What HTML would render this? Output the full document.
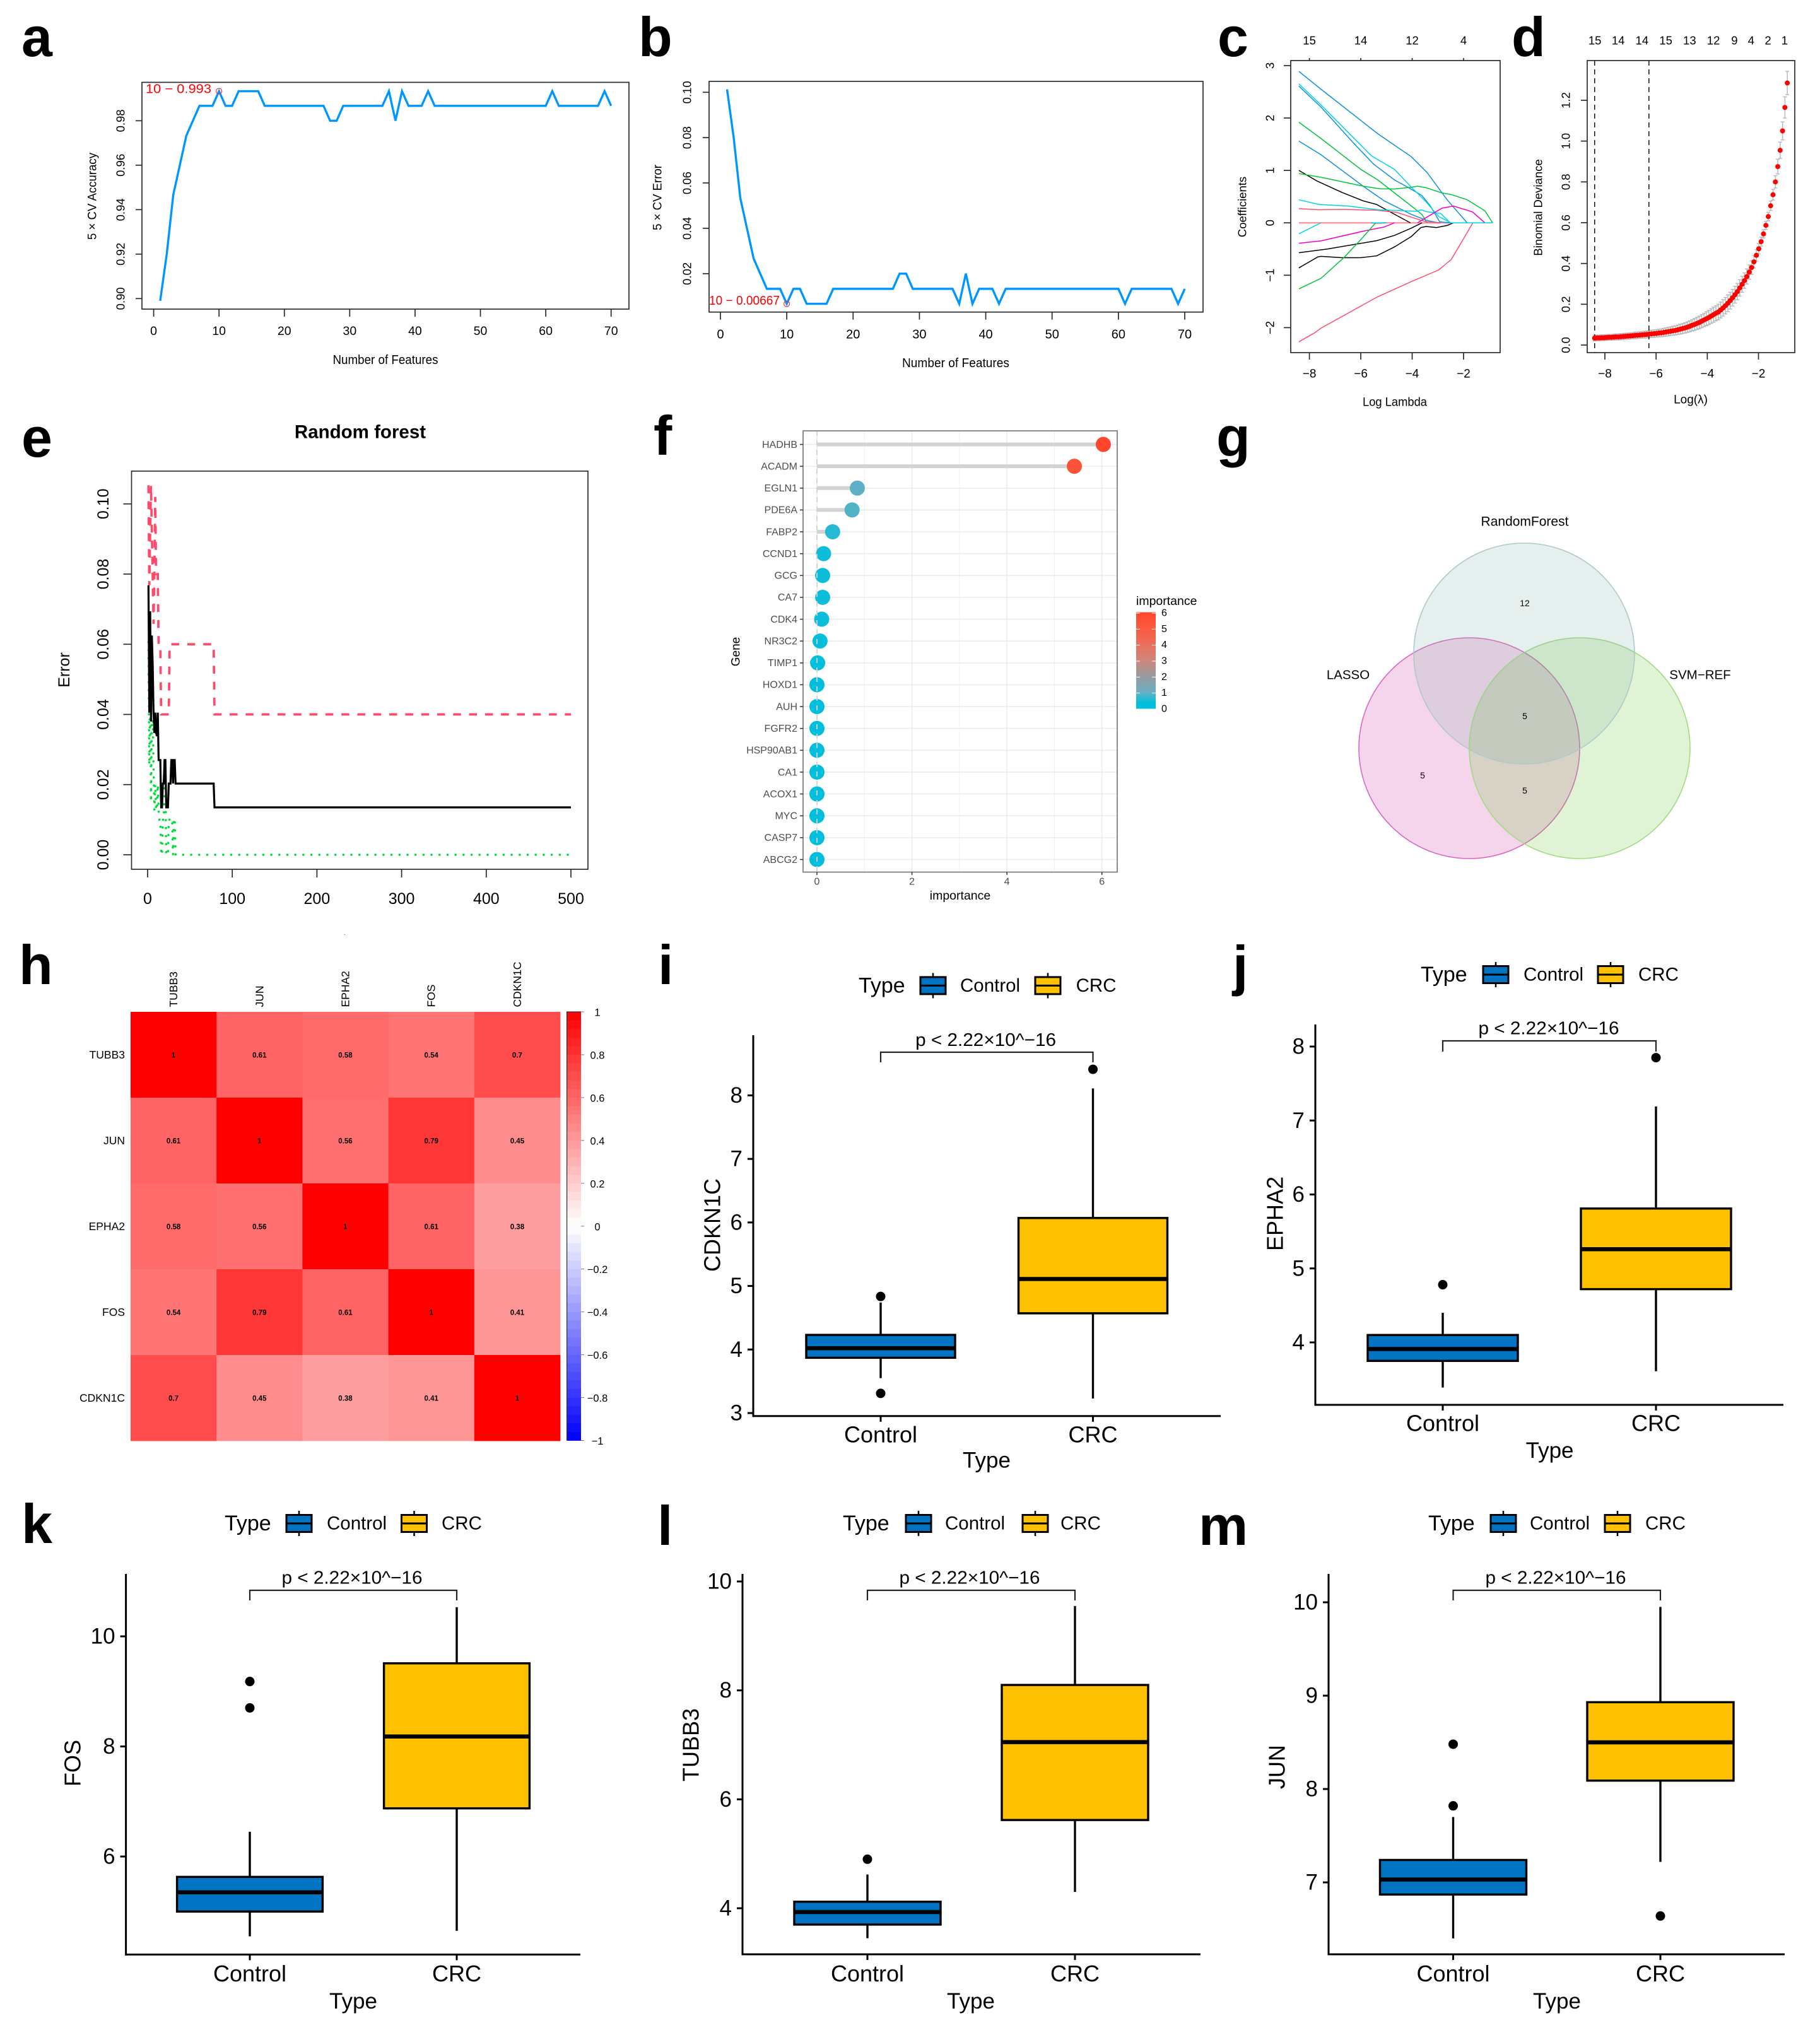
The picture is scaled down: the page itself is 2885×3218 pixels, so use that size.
<!DOCTYPE html>
<html lang="en">
<head>
<meta charset="utf-8">
<title>Feature selection and boxplot figure</title>
<style>
html,body{margin:0;padding:0;background:#fff;}
svg{display:block;font-family:"Liberation Sans",Arial,sans-serif;}
.letter{font-size:88px;font-weight:700;fill:#000;}
.t{dominant-baseline:central;fill:#000;}
</style>
</head>
<body>
<svg id="figure" xmlns="http://www.w3.org/2000/svg" width="2885" height="3218" viewBox="0 0 2885 3218">
<defs>
<clipPath id="trees-clip"><rect x="500" y="1470" width="150" height="12"/></clipPath>
<linearGradient id="importance-gradient" x1="0" y1="1" x2="0" y2="0">
<stop offset="0" stop-color="#00bfdc"/><stop offset="0.06" stop-color="#00bfdc"/><stop offset="0.18" stop-color="#6eafc0"/><stop offset="0.33" stop-color="#969ba0"/><stop offset="0.5" stop-color="#cd877d"/><stop offset="0.67" stop-color="#eb6e5a"/><stop offset="0.83" stop-color="#fa5a41"/><stop offset="1" stop-color="#ff462d"/>
</linearGradient>
</defs>
<rect width="2885" height="3218" fill="#fff"/>

<text class="letter" x="34" y="89">a</text>
<text class="letter" x="1012" y="89">b</text>
<text class="letter" x="1930" y="89">c</text>
<text class="letter" x="2396" y="89">d</text>
<text class="letter" x="34" y="724">e</text>
<text class="letter" x="1036" y="721">f</text>
<text class="letter" x="1928" y="723">g</text>
<text class="letter" x="30" y="1560">h</text>
<text class="letter" x="1043" y="1560">i</text>
<text class="letter" x="1954" y="1561">j</text>
<text class="letter" x="34" y="2446">k</text>
<text class="letter" x="1042" y="2449">l</text>
<text class="letter" x="1900" y="2449">m</text>

<g id="panel-a">
<text class="t" x="611" y="571" font-size="20" text-anchor="middle" textLength="167" lengthAdjust="spacingAndGlyphs">Number of Features</text>
<text class="t" x="147" y="311" font-size="19" text-anchor="middle" transform="rotate(-90 147 311)" textLength="138" lengthAdjust="spacingAndGlyphs">5 × CV Accuracy</text>
</g>
<g id="panel-b">
<text class="t" x="1515" y="576" font-size="20" text-anchor="middle" textLength="170" lengthAdjust="spacingAndGlyphs">Number of Features</text>
<text class="t" x="1043" y="313" font-size="19" text-anchor="middle" transform="rotate(-90 1043 313)" textLength="104" lengthAdjust="spacingAndGlyphs">5 × CV Error</text>
</g>
<g id="panel-c">
<text class="t" x="2211" y="638" font-size="19" text-anchor="middle" textLength="102" lengthAdjust="spacingAndGlyphs">Log Lambda</text>
<text class="t" x="1969" y="328" font-size="18.5" text-anchor="middle" transform="rotate(-90 1969 328)">Coefficients</text>
</g>
<g id="panel-d">
<text class="t" x="2680" y="634" font-size="19" text-anchor="middle">Log(λ)</text>
<text class="t" x="2438" y="329" font-size="18.5" text-anchor="middle" transform="rotate(-90 2438 329)">Binomial Deviance</text>
</g>
<g id="panel-e">
<text class="t" x="571" y="685" font-size="29.5" font-weight="700" text-anchor="middle">Random forest</text>
<text class="t" x="102" y="1062" font-size="25" text-anchor="middle" transform="rotate(-90 102 1062)">Error</text>
<text class="t" x="571" y="1490" font-size="25" text-anchor="middle" clip-path="url(#trees-clip)">trees</text>
</g>
<g id="panel-f">
<text class="t" x="1167" y="1033" font-size="19" text-anchor="middle" transform="rotate(-90 1167 1033)">Gene</text>
<text class="t" x="1522" y="1420" font-size="19.5" text-anchor="middle">importance</text>
<text class="t" x="1801" y="953" font-size="19.5">importance</text>
</g>
<g id="panel-g">
<circle cx="2329" cy="1186" r="175" fill="#cd2da0" fill-opacity="0.2" stroke="#d868c4" stroke-width="1.6"/>
<circle cx="2504" cy="1186" r="175" fill="#64c32d" fill-opacity="0.2" stroke="#a0dc80" stroke-width="1.6"/>
<circle cx="2416" cy="1036" r="175" fill="#7dafa5" fill-opacity="0.2" stroke="#b0c8c8" stroke-width="1.6"/>
<text class="t" x="2417" y="827" font-size="21" text-anchor="middle">RandomForest</text>
<text class="t" x="2137" y="1070" font-size="20.5" text-anchor="middle">LASSO</text>
<text class="t" x="2695" y="1070" font-size="20.5" text-anchor="middle">SVM−REF</text>
<text class="t" x="2417" y="956" font-size="14" text-anchor="middle">12</text>
<text class="t" x="2417" y="1135" font-size="14" text-anchor="middle">5</text>
<text class="t" x="2255" y="1229" font-size="14" text-anchor="middle">5</text>
<text class="t" x="2417" y="1253" font-size="14" text-anchor="middle">5</text>
</g>
<g id="panel-h"></g>
<g id="panel-i"></g>
<g id="panel-j"></g>
<g id="panel-k"></g>
<g id="panel-l"></g>
<g id="panel-m"></g>
</svg>

<script>
// ---------- panels a / b : feature-count curves ----------
const aAccuracy = [.899,.92,.9467,.96,.9733,.98,.9867,.9867,.9867,.9933,.9867,.9867,.9933,.9933,.9933,.9933,.9867,.9867,.9867,.9867,.9867,.9867,.9867,.9867,.9867,.9867,.98,.98,.9867,.9867,.9867,.9867,.9867,.9867,.9867,.9933,.98,.9933,.9867,.9867,.9867,.9933,.9867,.9867,.9867,.9867,.9867,.9867,.9867,.9867,.9867,.9867,.9867,.9867,.9867,.9867,.9867,.9867,.9867,.9867,.9933,.9867,.9867,.9867,.9867,.9867,.9867,.9867,.9933,.9867];
const bError = [.1013,.08,.0533,.04,.0267,.02,.0133,.0133,.0133,.0067,.0133,.0133,.0067,.0067,.0067,.0067,.0133,.0133,.0133,.0133,.0133,.0133,.0133,.0133,.0133,.0133,.02,.02,.0133,.0133,.0133,.0133,.0133,.0133,.0133,.0067,.02,.0067,.0133,.0133,.0133,.0067,.0133,.0133,.0133,.0133,.0133,.0133,.0133,.0133,.0133,.0133,.0133,.0133,.0133,.0133,.0133,.0133,.0133,.0133,.0067,.0133,.0133,.0133,.0133,.0133,.0133,.0133,.0067,.0133];
const featureTicks = [0,10,20,30,40,50,60,70];
const aYTicks = [.90,.92,.94,.96,.98];
const aYLabels = ['0.90','0.92','0.94','0.96','0.98'];
const bYTicks = [.02,.04,.06,.08,.10];
const bYLabels = ['0.02','0.04','0.06','0.08','0.10'];

// ---------- panel c : lasso coefficient paths [log lambda, coefficient] ----------
const cBlueTop = [[-8.41,2.89],[-7.55,2.55],[-5.34,1.70],[-4.03,1.26],[-3.42,.96],[-2.64,.44],[-1.86,0]];
const cCyanTop = [[-8.41,2.65],[-7.55,2.25],[-5.59,1.28],[-4.69,1.02],[-4.03,.68],[-3.46,.40],[-2.97,.12],[-2.48,0]];
const cBlueSecond = [[-8.41,2.61],[-7.55,2.21],[-6.24,1.50],[-5.5,1.12],[-4.69,.82],[-4.03,.64],[-3.62,.52],[-3.29,.32],[-2.93,.02],[-2.5,0]];
const cGreenFalling = [[-8.41,1.92],[-7.55,1.61],[-6,1.02],[-5.34,.82],[-4.03,.32],[-3.62,.16],[-3.42,0]];
const cBlueThird = [[-8.41,1.56],[-7.55,1.30],[-5.91,.70],[-5.09,.42],[-4.03,.16],[-3.46,.05],[-2.97,0]];
const cBlackFalling = [[-8.41,1.0],[-7.71,.80],[-6.73,.58],[-5.91,.42],[-5.38,.35],[-4.6,.14],[-4.07,0]];
const cGreenLong = [[-8.41,.94],[-7.55,.87],[-5.91,.70],[-5.26,.65],[-4.69,.645],[-4.03,.68],[-3.79,.70],[-3.46,.67],[-2.84,.57],[-2.48,.54],[-1.86,.44],[-1.17,.23],[-.87,0]];
const cCyanLow = [[-8.41,.44],[-7.63,.35],[-6.49,.32],[-5.34,.25],[-3.79,.22],[-3.66,.25],[-3.42,.21],[-2.89,.18],[-2.52,0]];
const cRedLow = [[-8.41,.27],[-7.63,.25],[-6.73,.257],[-5.38,.24],[-4.6,.2],[-3.79,.07],[-3.46,.02],[-2.89,0]];
const cRedZero = [[-8.41,0],[-5.6,0],[-5.38,-.01],[-5.1,0],[-2.5,0]];
const cCyanSegment = [[-5.6,0],[-5,0]];
const cMagentaHump = [[-3.79,0],[-3.46,.1],[-2.84,.28],[-2.39,.32],[-1.66,.21],[-1.17,0]];
const cCyanNegative = [[-8.41,-.21],[-7.55,0]];
const cMagentaNegative = [[-8.41,-.39],[-7.55,-.345],[-5.91,-.16],[-5.09,-.08],[-4.69,0]];
const cBlackNegative = [[-8.41,-.57],[-7.3,-.5],[-5.38,-.34],[-4.69,-.24],[-4.03,-.1],[-3.62,0]];
const cBlackLong = [[-8.41,-.86],[-7.67,-.65],[-7.55,-.64],[-6.73,-.665],[-6,-.665],[-5.38,-.63],[-4.69,-.46],[-4.03,-.26],[-3.66,-.09],[-3.46,-.07],[-3.05,-.09],[-2.64,-.05],[-2.39,0]];
const cGreenNegative = [[-8.41,-1.26],[-7.55,-1.06],[-6.65,-.66],[-6,-.32],[-5.42,0]];
const cRedBig = [[-8.41,-2.27],[-7.8,-2.1],[-7.55,-2.01],[-5.34,-1.41],[-4.03,-1.12],[-2.97,-.9],[-2.48,-.7],[-1.9,-.22],[-1.64,0]];
const cCyanTail = [[-2.52,0],[-.87,0]];
const cXTicks = [-8,-6,-4,-2];
const cYTicks = [-2,-1,0,1,2,3];
const cTopCounts = ['15','14','12','4'];

// ---------- panel d : cross-validated deviance ----------
const dDeviance = [.034,.035,.035,.036,.036,.037,.038,.038,.039,.040,.040,.041,.042,.043,.044,.045,.046,.047,.048,.049,.050,.051,.052,.054,.055,.056,.057,.059,.060,.062,.064,.066,.068,.070,.072,.075,.078,.081,.084,.088,.092,.097,.101,.106,.111,.117,.123,.129,.135,.142,.149,.156,.162,.172,.182,.193,.205,.218,.232,.247,.262,.280,.298,.316,.336,.358,.38,.408,.44,.472,.507,.545,.587,.63,.683,.737,.80,.875,.955,1.05,1.165,1.285];
const dStdErr = [.014,.014,.014,.014,.014,.014,.014,.014,.014,.015,.015,.015,.015,.015,.015,.015,.015,.016,.016,.016,.016,.017,.017,.017,.018,.018,.018,.019,.019,.020,.020,.021,.021,.022,.022,.023,.024,.024,.025,.026,.027,.028,.029,.030,.031,.032,.033,.034,.035,.036,.037,.037,.038,.039,.040,.040,.041,.041,.041,.041,.040,.040,.039,.038,.037,.035,.033,.030,.028,.025,.022,.020,.020,.021,.023,.026,.030,.036,.040,.044,.052,.057];
const dXTicks = [-8,-6,-4,-2];
const dYTicks = [0,.2,.4,.6,.8,1.0,1.2];
const dYLabels = ['0.0','0.2','0.4','0.6','0.8','1.0','1.2'];
const dTopLambda = [-8.39,-7.48,-6.55,-5.62,-4.69,-3.76,-2.94,-2.29,-1.63,-.98];
const dTopCounts = ['15','14','14','15','13','12','9','4','2','1'];
const dCutoffs = [-8.4,-6.28];

// ---------- panel e : random forest error ----------
const eTrees = [1,2,3,4,5,6,7,8,9,10,11,12,13,14,15,16,17,18,19,20,21,22,23,24,25,26,27,28,29,30,31,32,33,34,39,78,79,500];
const eOob = [.0768,.0405,.0694,.0380,.0625,.0541,.0405,.0347,.0405,.0347,.0338,.0405,.0270,.0270,.0270,.0135,.0135,.0203,.0203,.0270,.0270,.0135,.0135,.0135,.0203,.0203,.0203,.0270,.0270,.0203,.0270,.0270,.0203,.0203,.0203,.0203,.0135,.0135];
const eControl = [.1053,.0768,.0921,.1053,.0921,.0789,.0658,.0800,.1020,.0800,.0800,.0800,.0600,.0600,.0600,.0400,.0400,.0400,.0400,.0400,.0400,.0400,.0400,.0400,.0400,.0600,.0600,.0600,.0600,.0600,.0600,.0600,.0600,.0600,.0600,.0600,.0400,.0400];
const eCrc = [.0606,.0256,.0513,.0151,.0385,.0385,.0256,.0128,.0200,.0128,.0128,.0200,.0128,.0100,.0100,0,0,.0100,.0100,.0200,.0200,0,0,0,.0100,.0100,.0100,.0103,.0103,0,.0103,.0103,0,0,0,0,0,0];
const eXTicks = [0,100,200,300,400,500];
const eYTicks = [0,.02,.04,.06,.08,.10];
const eYLabels = ['0.00','0.02','0.04','0.06','0.08','0.10'];

// ---------- panel f : gene importance ----------
const fGenes = ['HADHB','ACADM','EGLN1','PDE6A','FABP2','CCND1','GCG','CA7','CDK4','NR3C2','TIMP1','HOXD1','AUH','FGFR2','HSP90AB1','CA1','ACOX1','MYC','CASP7','ABCG2'];
const fImportance = [6.03,5.42,.85,.74,.33,.14,.12,.12,.10,.065,.015,0,0,0,0,0,0,0,0,0];
const fXTicks = [0,2,4,6];
const fLegendTicks = [0,1,2,3,4,5,6];

// ---------- panel h : correlation heatmap ----------
const hGenes = ['TUBB3','JUN','EPHA2','FOS','CDKN1C'];
const hRowTubb3 = [1,.61,.58,.54,.7];
const hRowJun = [.61,1,.56,.79,.45];
const hRowEpha2 = [.58,.56,1,.61,.38];
const hRowFos = [.54,.79,.61,1,.41];
const hRowCdkn1c = [.7,.45,.38,.41,1];
const hMatrix = [hRowTubb3,hRowJun,hRowEpha2,hRowFos,hRowCdkn1c];
const hBarTicks = [1,.8,.6,.4,.2,0,-.2,-.4,-.6,-.8,-1];
const hBarLabels = ['1','0.8','0.6','0.4','0.2','0','−0.2','−0.4','−0.6','−0.8','−1'];

// ---------- panels i-m : boxplots [low whisker, Q1, median, Q3, high whisker] ----------
const boxCategories = ['Control','CRC'];
const pLabel = 'p < 2.22×10^−16';
const iControl = [3.55,3.87,4.02,4.23,4.74];
const iControlOutliers = [4.835,3.31];
const iCrc = [3.23,4.57,5.11,6.07,8.11];
const iCrcOutliers = [8.41];
const iTicks = [3,4,5,6,7,8];
const jControl = [3.39,3.75,3.91,4.10,4.40];
const jControlOutliers = [4.78];
const jCrc = [3.61,4.72,5.26,5.81,7.19];
const jCrcOutliers = [7.85];
const jTicks = [4,5,6,7,8];
const kControl = [4.55,5.0,5.35,5.63,6.45];
const kControlOutliers = [9.18,8.70];
const kCrc = [4.65,6.875,8.18,9.51,10.53];
const kCrcOutliers = [];
const kTicks = [6,8,10];
const lControl = [3.45,3.7,3.93,4.12,4.62];
const lControlOutliers = [4.9];
const lCrc = [4.3,5.62,7.05,8.1,9.55];
const lCrcOutliers = [];
const lTicks = [4,6,8,10];
const mControl = [6.4,6.87,7.03,7.24,7.7];
const mControlOutliers = [8.48,7.82];
const mCrc = [7.22,8.09,8.5,8.93,9.95];
const mCrcOutliers = [6.64];
const mTicks = [7,8,9,10];

// ---------- helpers ----------
const NS = 'http://www.w3.org/2000/svg';
function el(parent, tag, attrs, name) {
  const e = document.createElementNS(NS, tag);
  for (const k in attrs) e.setAttribute(k, attrs[k]);
  
  
  parent.appendChild(e);
  return e;
}
function scale(d0, d1, r0, r1) { return v => r0 + (v - d0) * (r1 - r0) / (d1 - d0); }
function txt(parent, str, x, y, size, anchor, name, rotate, fill, weight) {
  const attrs = {class:'t', x:x, y:y, 'font-size':size, 'text-anchor':anchor || 'middle'};
  if (rotate) attrs.transform = 'rotate(' + rotate + ' ' + x + ' ' + y + ')';
  if (fill) attrs.style = 'fill:' + fill;
  if (weight) attrs['font-weight'] = weight;
  const t = el(parent, 'text', attrs, name);
  t.textContent = str;
  return t;
}
function seg(parent, x1, y1, x2, y2, stroke, w, name) {
  return el(parent, 'line', {x1:x1, y1:y1, x2:x2, y2:y2, stroke:stroke, 'stroke-width':w}, name);
}
function box(parent, x0, y0, x1, y1, name) {
  return el(parent, 'rect', {x:x0, y:y0, width:x1-x0, height:y1-y0, fill:'none', stroke:'#2a2a2a', 'stroke-width':1.7}, name);
}
function pathFrom(pts, sx, sy) {
  return pts.map((p, i) => (i ? 'L' : 'M') + sx(p[0]).toFixed(2) + ' ' + sy(p[1]).toFixed(2)).join('');
}
function xAxisR(g, vals, labels, sx, y0, len, labelY, size) {
  vals.forEach((v, i) => {
    seg(g, sx(v), y0, sx(v), y0 + len, '#2a2a2a', 1.7, 'x-tick');
    txt(g, labels[i], sx(v), labelY, size, 'middle', 'x-tick-label');
  });
}
function yAxisR(g, vals, labels, sy, x0, len, labelX, size) {
  vals.forEach((v, i) => {
    seg(g, x0 - len, sy(v), x0, sy(v), '#2a2a2a', 1.7, 'y-tick');
    txt(g, labels[i], labelX, sy(v), size, 'middle', 'y-tick-label', -90);
  });
}
const minusLabel = v => String(v).replace('-', '−');

// ---------- panel a ----------
(function () {
  const g = document.getElementById('panel-a');
  const sx = scale(0, 70, 243.6, 968.7), sy = scale(.90, .98, 473.3, 191.4);
  box(g, 225, 130.5, 997, 490, 'plot-frame');
  xAxisR(g, featureTicks, featureTicks.map(String), sx, 490, 12, 525, 19.5);
  yAxisR(g, aYTicks, aYLabels, sy, 225, 10, 191, 18.5);
  el(g, 'path', {d: pathFrom(aAccuracy.map((v, i) => [i + 1, v]), sx, sy), fill:'none', stroke:'#0096ff', 'stroke-width':3.4, 'stroke-linejoin':'miter'}, 'accuracy-line');
  const t = txt(g, '10 − 0.993', 231, 141.5, 20, 'start', 'best-point-label', 0, '#ff0000');
  t.setAttribute('textLength', 104);
  t.setAttribute('lengthAdjust', 'spacingAndGlyphs');
  el(g, 'circle', {cx:sx(10), cy:sy(aAccuracy[9]), r:4.5, fill:'none', stroke:'#ff3030', 'stroke-width':1.2}, 'best-point-marker');
})();

// ---------- panel b ----------
(function () {
  const g = document.getElementById('panel-b');
  const sx = scale(0, 70, 1142, 1878), sy = scale(.02, .10, 433.8, 146.3);
  box(g, 1124, 129, 1907, 494.7, 'plot-frame');
  xAxisR(g, featureTicks, featureTicks.map(String), sx, 494.7, 12, 530.6, 20);
  yAxisR(g, bYTicks, bYLabels, sy, 1124, 10, 1089, 18.5);
  el(g, 'path', {d: pathFrom(bError.map((v, i) => [i + 1, v]), sx, sy), fill:'none', stroke:'#0096ff', 'stroke-width':3.4}, 'error-line');
  const t = txt(g, '10 − 0.00667', 1124, 477, 20, 'start', 'best-point-label', 0, '#ff0000');
  t.setAttribute('textLength', 112);
  t.setAttribute('lengthAdjust', 'spacingAndGlyphs');
  el(g, 'circle', {cx:sx(10), cy:sy(bError[9]), r:4.5, fill:'none', stroke:'#ff3030', 'stroke-width':1.2}, 'best-point-marker');
})();

// ---------- panel c ----------
(function () {
  const g = document.getElementById('panel-c');
  const sx = scale(-8, -2, 2075.6, 2320), sy = scale(-2, 3, 519.4, 104);
  box(g, 2046, 96, 2378, 559, 'plot-frame');
  xAxisR(g, cXTicks, cXTicks.map(minusLabel), sx, 559, 11, 593, 19);
  yAxisR(g, cYTicks, cYTicks.map(minusLabel), sy, 2046, 11, 2013, 18.5);
  cXTicks.forEach((v, i) => {
    seg(g, sx(v), 92, sx(v), 96, '#2a2a2a', 1.7, 'top-tick');
    txt(g, cTopCounts[i], sx(v), 64, 18.5, 'middle', 'top-tick-label');
  });
  const black = '#000', red = '#ff4d6d', green = '#00c43c', blue = '#0a90e0', cyan = '#00d4e4', magenta = '#ee00c8';
  el(g, 'path', {d: pathFrom(cRedZero, sx, sy), fill:'none', stroke:'#ff9aaa', 'stroke-width':2.5}, 'coef-line-red-zero');
  const lines = [
    [cBlueTop, blue, 'coef-line-blue-1'], [cBlueSecond, blue, 'coef-line-blue-2'], [cCyanTop, cyan, 'coef-line-cyan-1'],
    [cGreenFalling, green, 'coef-line-green-1'], [cBlueThird, blue, 'coef-line-blue-3'], [cBlackFalling, black, 'coef-line-black-1'],
    [cGreenLong, green, 'coef-line-green-2'], [cRedLow, red, 'coef-line-red-1'], [cCyanLow, cyan, 'coef-line-cyan-2'],
    [cCyanNegative, cyan, 'coef-line-cyan-3'], [cMagentaNegative, magenta, 'coef-line-magenta-1'],
    [cBlackNegative, black, 'coef-line-black-2'], [cBlackLong, black, 'coef-line-black-3'], [cGreenNegative, green, 'coef-line-green-3'],
    [cMagentaHump, magenta, 'coef-line-magenta-2'], [cRedBig, red, 'coef-line-red-2'],
    [cCyanSegment, cyan, 'coef-line-cyan-4'], [cCyanTail, cyan, 'coef-line-cyan-5']
  ];
  lines.forEach(l => {
    el(g, 'path', {d: pathFrom(l[0], sx, sy), fill:'none', stroke:l[1], 'stroke-width':1.5}, l[2]);
  });
})();

// ---------- panel d ----------
(function () {
  const g = document.getElementById('panel-d');
  const sx = scale(-8, -2, 2544, 2787.5), sy = scale(0, 1.2, 547, 159);
  const indexToLambda = scale(0, dDeviance.length - 1, -8.4, -.875);
  box(g, 2516, 96, 2845, 559, 'plot-frame');
  xAxisR(g, dXTicks, dXTicks.map(minusLabel), sx, 559, 11, 593, 19);
  yAxisR(g, dYTicks, dYLabels, sy, 2516, 10, 2482, 18.5);
  dTopLambda.forEach((v, i) => {
    txt(g, dTopCounts[i], sx(v), 64, 18.5, 'middle', 'top-count-label');
  });
  dDeviance.forEach((v, i) => {
    const x = sx(indexToLambda(i)), hi = sy(v + dStdErr[i]), lo = sy(v - dStdErr[i]);
    seg(g, x, hi, x, lo, '#b9b9b9', 1.5, 'error-bar');
    seg(g, x - 3, hi, x + 3, hi, '#b9b9b9', 1.5, 'error-cap-high');
    seg(g, x - 3, lo, x + 3, lo, '#b9b9b9', 1.5, 'error-cap-low');
  });
  dCutoffs.forEach(v => {
    el(g, 'line', {x1:sx(v), y1:96, x2:sx(v), y2:559, stroke:'#111', 'stroke-width':1.5, 'stroke-dasharray':'8 6'}, 'lambda-cutoff-line');
  });
  dDeviance.forEach((v, i) => {
    el(g, 'circle', {cx:sx(indexToLambda(i)), cy:sy(v), r:4, fill:'#ff0000'}, 'deviance-point');
  });
})();

// ---------- panel e ----------
(function () {
  const g = document.getElementById('panel-e');
  const sx = scale(0, 500, 234, 905), sy = scale(0, .10, 1355, 798.8);
  box(g, 208.5, 746.8, 932, 1378, 'plot-frame');
  xAxisR(g, eXTicks, eXTicks.map(String), sx, 1378, 13, 1425, 25);
  yAxisR(g, eYTicks, eYLabels, sy, 208.5, 13, 164, 25);
  const pts = vals => vals.map((v, i) => [eTrees[i], v]);
  el(g, 'path', {d: pathFrom(pts(eCrc), sx, sy), fill:'none', stroke:'#00dd3c', 'stroke-width':3.6, 'stroke-linecap':'round', 'stroke-dasharray':'0.1 12.6'}, 'crc-error-line');
  el(g, 'path', {d: pathFrom(pts(eControl), sx, sy), fill:'none', stroke:'#ff4b6b', 'stroke-width':3.7, 'stroke-dasharray':'12.5 12.8'}, 'control-error-line');
  el(g, 'path', {d: pathFrom(pts(eOob), sx, sy), fill:'none', stroke:'#000', 'stroke-width':3.2}, 'oob-error-line');
})();

// ---------- panel f ----------
(function () {
  const g = document.getElementById('panel-f');
  const sx = scale(0, 6, 1295, 1746.7);
  const sy = i => 704.5 + i * (1362.5 - 704.5) / (fGenes.length - 1);
  [1,3,5].forEach(v => seg(g, sx(v), 683, sx(v), 1382.5, '#f0f0f0', 1, 'minor-gridline'));
  fXTicks.forEach(v => seg(g, sx(v), 683, sx(v), 1382.5, '#ebebeb', 1.6, 'major-gridline'));
  fGenes.forEach((gene, i) => {
    seg(g, 1273, sy(i), 1771, sy(i), '#ebebeb', 1.6, 'gene-gridline');
  });
  const stops = [[0,191,220],[110,175,192],[150,155,160],[205,135,125],[235,110,90],[250,90,65],[255,70,45]];
  function color(v) {
    const i = Math.min(5, Math.floor(v)), f = v - i;
    const c = stops[i].map((s, k) => Math.round(s + (stops[i + 1][k] - s) * f));
    return 'rgb(' + c.join(',') + ')';
  }
  fImportance.forEach((v, i) => {
    seg(g, sx(0), sy(i), sx(v), sy(i), '#d3d3d3', 6, 'lollipop-stem-' + fGenes[i]);
  });
  fImportance.forEach((v, i) => {
    el(g, 'circle', {cx:sx(v), cy:sy(i), r:12, fill:color(v)}, 'lollipop-dot-' + fGenes[i]);
  });
  el(g, 'line', {x1:sx(0), y1:683, x2:sx(0), y2:1382.5, stroke:'#d3d3d3', 'stroke-width':1.8, 'stroke-dasharray':'8 7'}, 'zero-reference-line');
  el(g, 'rect', {x:1273, y:683, width:498, height:699.5, fill:'none', stroke:'#7f7f7f', 'stroke-width':1.8}, 'plot-frame');
  fGenes.forEach((gene, i) => {
    seg(g, 1268, sy(i), 1273, sy(i), '#333', 1.5, 'gene-tick');
    txt(g, gene, 1264, sy(i) + 0.8, 16, 'end', 'gene-label', 0, '#4d4d4d');
  });
  fXTicks.forEach(v => {
    seg(g, sx(v), 1382.5, sx(v), 1387, '#333', 1.5, 'x-tick');
    txt(g, String(v), sx(v), 1398, 16, 'middle', 'x-tick-label', 0, '#4d4d4d');
  });
  el(g, 'rect', {x:1801, y:970.5, width:31, height:153, fill:'url(#importance-gradient)'}, 'legend-colorbar');
  const sl = scale(0, 6, 1124, 972);
  fLegendTicks.forEach(v => {
    seg(g, 1801, sl(v), 1807, sl(v), '#fff', 1, 'legend-tick-left');
    seg(g, 1826, sl(v), 1832, sl(v), '#fff', 1, 'legend-tick-right');
    txt(g, String(v), 1845.5, sl(v), 16, 'middle', 'legend-tick-label');
  });
})();

// ---------- panel h ----------
(function () {
  const g = document.getElementById('panel-h');
  const left = 207, top = 1604, cw = 136.2, ch = 136;
  const shade = v => { const c = Math.round(255 * (1 - v)); return 'rgb(255,' + c + ',' + c + ')'; };
  hMatrix.forEach((row, r) => {
    row.forEach((v, c) => {
      el(g, 'rect', {x:left + c * cw, y:top + r * ch, width:cw + .4, height:ch + .4, fill:shade(v)}, 'heatmap-cell-' + hGenes[r] + '-' + hGenes[c]);
    });
  });
  hMatrix.forEach((row, r) => {
    row.forEach((v, c) => {
      txt(g, String(v), left + (c + .5) * cw, top + (r + .5) * ch + 1.5, 11.5, 'middle', 'heatmap-value', 0, '#000', 700);
    });
    txt(g, hGenes[r], 198, top + (r + .5) * ch, 17.5, 'end', 'row-label');
    const x = left + (r + .5) * cw;
    txt(g, hGenes[r], x, 1596.5, 17.5, 'start', 'column-label', -90);
  });
  const barTop = 1604, barBottom = 2283.5, levels = 50;
  for (let i = 0; i < levels; i++) {
    const v = 1 - (i + .5) * 2 / levels;
    const m = Math.round(255 * (1 - Math.abs(v)));
    const col = v > 0 ? 'rgb(255,' + m + ',' + m + ')' : 'rgb(' + m + ',' + m + ',255)';
    const h = (barBottom - barTop) / levels;
    el(g, 'rect', {x:898.6, y:barTop + i * h, width:22.4, height:h + .4, fill:col}, 'colorbar-band');
  }
  el(g, 'path', {d:'M898.6 ' + barBottom + 'V' + barTop + 'H921', fill:'none', stroke:'#333', 'stroke-width':1.3}, 'colorbar-outline');
  const sb = scale(1, -1, barTop, barBottom);
  hBarTicks.forEach((v, i) => {
    seg(g, 921, sb(v), 926, sb(v), '#777', 1, 'colorbar-tick');
    txt(g, hBarLabels[i], 947, sb(v) + 1.5, 16.5, 'middle', 'colorbar-tick-label');
  });
})();

// ---------- panels i-m ----------
function boxPanel(id, cfg) {
  const g = document.getElementById(id);
  const sy = scale(cfg.v0, cfg.v1, cfg.y0, cfg.y1);
  const series = [
    {stats:cfg.control, out:cfg.controlOut, fill:'#0073c2', x:cfg.cats[0], key:'control'},
    {stats:cfg.crc, out:cfg.crcOut, fill:'#ffc000', x:cfg.cats[1], key:'crc'}
  ];
  seg(g, cfg.axisX, cfg.axisTop, cfg.axisX, cfg.axisY + 1.5, '#000', 3, 'y-axis-line');
  seg(g, cfg.axisX, cfg.axisY, cfg.axisRight, cfg.axisY, '#000', 3, 'x-axis-line');
  cfg.ticks.forEach(v => {
    seg(g, cfg.axisX - 9, sy(v), cfg.axisX, sy(v), '#000', 3, 'y-tick');
    txt(g, String(v), cfg.axisX - 17, sy(v), 35, 'end', 'y-tick-label');
  });
  series.forEach((s, i) => {
    seg(g, s.x, cfg.axisY, s.x, cfg.axisY + 9, '#000', 3, 'x-tick-' + s.key);
    txt(g, boxCategories[i], s.x, cfg.catY, 36, 'middle', 'x-tick-label-' + s.key);
    seg(g, s.x, sy(s.stats[0]), s.x, sy(s.stats[1]), '#000', 3.4, 'whisker-low-' + s.key);
    seg(g, s.x, sy(s.stats[3]), s.x, sy(s.stats[4]), '#000', 3.4, 'whisker-high-' + s.key);
    el(g, 'rect', {x:s.x - cfg.half, y:sy(s.stats[3]), width:cfg.half * 2, height:sy(s.stats[1]) - sy(s.stats[3]), fill:s.fill, stroke:'#000', 'stroke-width':3.4}, 'box-' + s.key);
    seg(g, s.x - cfg.half, sy(s.stats[2]), s.x + cfg.half, sy(s.stats[2]), '#000', 6.5, 'median-' + s.key);
    s.out.forEach(v => {
      el(g, 'circle', {cx:s.x, cy:sy(v), r:7.5, fill:'#000'}, 'outlier-' + s.key);
    });
  });
  const bx0 = cfg.cats[0], bx1 = cfg.cats[1];
  el(g, 'path', {d:'M' + bx0 + ' ' + cfg.tipY + 'V' + cfg.bracketY + 'H' + bx1 + 'V' + cfg.tipY, fill:'none', stroke:'#222', 'stroke-width':2.2}, 'significance-bracket');
  const p = txt(g, pLabel, cfg.pX, cfg.pY, 29, 'middle', 'p-value-label');
  p.setAttribute('textLength', 223);
  p.setAttribute('lengthAdjust', 'spacingAndGlyphs');
  txt(g, cfg.gene, cfg.geneX, cfg.geneY, 36, 'middle', 'y-axis-title', -90);
  txt(g, 'Type', cfg.typeX, cfg.typeY, 35, 'middle', 'x-axis-title');
  txt(g, 'Type', cfg.legTypeX, cfg.legY, 34, 'start', 'legend-title');
  [[cfg.key1X, '#0073c2', boxCategories[0], cfg.ctrlX, 'control'], [cfg.key2X, '#ffc000', boxCategories[1], cfg.crcX, 'crc']].forEach(k => {
    seg(g, k[0] + 20, cfg.legY - 20, k[0] + 20, cfg.legY + 20, '#000', 2.5, 'legend-key-whisker-' + k[4]);
    el(g, 'rect', {x:k[0], y:cfg.legY - 13.5, width:40, height:27, fill:k[1], stroke:'#000', 'stroke-width':3}, 'legend-key-box-' + k[4]);
    seg(g, k[0], cfg.legY, k[0] + 40, cfg.legY, '#000', 3, 'legend-key-median-' + k[4]);
    txt(g, k[2], k[3], cfg.legY, 29.5, 'start', 'legend-label-' + k[4]);
  });
}
boxPanel('panel-i', {gene:'CDKN1C', control:iControl, controlOut:iControlOutliers, crc:iCrc, crcOut:iCrcOutliers, ticks:iTicks,
  v0:3, v1:8, y0:2240, y1:1736.4, axisX:1194, axisY:2244.8, axisRight:1935, axisTop:1641, cats:[1396,1732.5], half:118,
  bracketY:1668, tipY:1684, pX:1562.6, pY:1649, catY:2274, typeX:1564, typeY:2315, geneX:1129, geneY:1942,
  legY:1562.4, legTypeX:1361, key1X:1459, ctrlX:1522, key2X:1641, crcX:1705.6});
boxPanel('panel-j', {gene:'EPHA2', control:jControl, controlOut:jControlOutliers, crc:jCrc, crcOut:jCrcOutliers, ticks:jTicks,
  v0:4, v1:8, y0:2128, y1:1659, axisX:2085, axisY:2227, axisRight:2827, axisTop:1624, cats:[2287,2625], half:119,
  bracketY:1650, tipY:1667, pX:2455, pY:1630.7, catY:2256, typeX:2456.6, typeY:2299.5, geneX:2021, geneY:1924,
  legY:1545, legTypeX:2252, key1X:2351, ctrlX:2415, key2X:2533, crcX:2597});
boxPanel('panel-k', {gene:'FOS', control:kControl, controlOut:kControlOutliers, crc:kCrc, crcOut:kCrcOutliers, ticks:kTicks,
  v0:6, v1:10, y0:2943, y1:2594, axisX:199.6, axisY:3098.4, axisRight:920, axisTop:2495, cats:[396,724], half:115.4,
  bracketY:2521, tipY:2537, pX:558, pY:2501.5, catY:3128.4, typeX:560, typeY:3172.6, geneX:115, geneY:2795,
  legY:2415, legTypeX:356, key1X:454, ctrlX:518, key2X:636.5, crcX:700});
boxPanel('panel-l', {gene:'TUBB3', control:lControl, controlOut:lControlOutliers, crc:lCrc, crcOut:lCrcOutliers, ticks:lTicks,
  v0:4, v1:10, y0:3025, y1:2507, axisX:1177, axisY:3098, axisRight:1903, axisTop:2495, cats:[1375,1704], half:116,
  bracketY:2521, tipY:2537, pX:1537, pY:2501.5, catY:3128.4, typeX:1539, typeY:3172.6, geneX:1095, geneY:2766,
  legY:2415, legTypeX:1336, key1X:1436, ctrlX:1498, key2X:1621, crcX:1681});
boxPanel('panel-m', {gene:'JUN', control:mControl, controlOut:mControlOutliers, crc:mCrc, crcOut:mCrcOutliers, ticks:mTicks,
  v0:7, v1:10, y0:2984, y1:2540, axisX:2106, axisY:3098, axisRight:2829, axisTop:2495, cats:[2303.5,2632], half:116,
  bracketY:2521, tipY:2537, pX:2466, pY:2501.5, catY:3128.4, typeX:2468, typeY:3172.6, geneX:2024, geneY:2801,
  legY:2415, legTypeX:2264, key1X:2363, ctrlX:2425, key2X:2544, crcX:2608});
</script>
</body>
</html>
